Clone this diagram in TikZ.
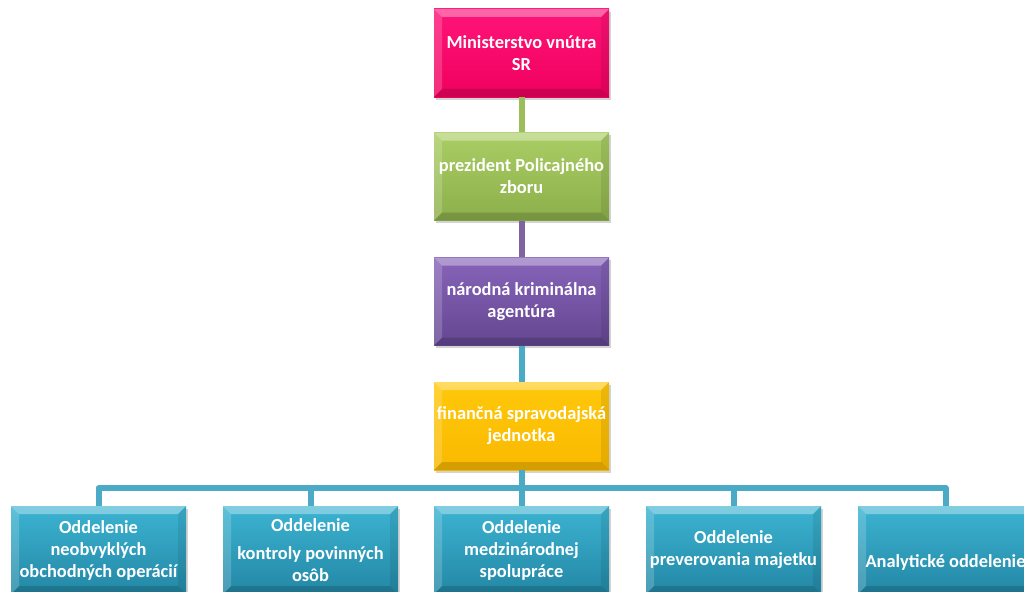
\documentclass[tikz,border=0pt]{standalone}
\usepackage{fontspec}
\setmainfont{Carlito}
\usetikzlibrary{shadows}
\definecolor{cpinkT}{RGB}{255,20,120}
\definecolor{cpinkB}{RGB}{240,0,95}
\definecolor{cgreenT}{RGB}{170,205,100}
\definecolor{cgreenB}{RGB}{140,175,75}
\definecolor{cpurpT}{RGB}{135,100,185}
\definecolor{cpurpB}{RGB}{100,70,145}
\definecolor{cyelT}{RGB}{255,200,10}
\definecolor{cyelB}{RGB}{250,185,0}
\definecolor{ctealT}{RGB}{60,180,210}
\definecolor{ctealB}{RGB}{35,135,165}
\definecolor{lgreen}{RGB}{155,190,90}
\definecolor{lpurp}{RGB}{128,100,162}
\definecolor{lteal}{RGB}{75,170,198}
\tikzset{
  orgbox/.style={minimum width=131.25pt, minimum height=66pt, inner sep=1pt,
    align=center, text=white, font=\bfseries\fontsize{13.8}{16.5}\selectfont,
    drop shadow={opacity=0.35, shadow xshift=1.5pt, shadow yshift=-2pt},
    path picture={
      \fill[white,opacity=0.35] (path picture bounding box.north west) -- (path picture bounding box.north east)
        -- ([xshift=-6pt,yshift=-6pt]path picture bounding box.north east) -- ([xshift=6pt,yshift=-6pt]path picture bounding box.north west) -- cycle;
      \fill[white,opacity=0.18] (path picture bounding box.north west) -- ([xshift=6pt,yshift=-6pt]path picture bounding box.north west)
        -- ([xshift=6pt,yshift=6pt]path picture bounding box.south west) -- (path picture bounding box.south west) -- cycle;
      \fill[black,opacity=0.08] (path picture bounding box.north east) -- ([xshift=-6pt,yshift=-6pt]path picture bounding box.north east)
        -- ([xshift=-6pt,yshift=6pt]path picture bounding box.south east) -- (path picture bounding box.south east) -- cycle;
      \fill[black,opacity=0.15] (path picture bounding box.south west) -- ([xshift=6pt,yshift=6pt]path picture bounding box.south west)
        -- ([xshift=-6pt,yshift=6pt]path picture bounding box.south east) -- (path picture bounding box.south east) -- cycle;
    }},
  pinkbox/.style={orgbox, top color=cpinkT, bottom color=cpinkB},
  greenbox/.style={orgbox, top color=cgreenT, bottom color=cgreenB},
  purpbox/.style={orgbox, top color=cpurpT, bottom color=cpurpB},
  yelbox/.style={orgbox, top color=cyelT, bottom color=cyelB},
  tealbox/.style={orgbox, top color=ctealT, bottom color=ctealB},
  conn/.style={line width=4.5pt, line join=round}
}
\begin{document}
\begin{tikzpicture}[x=0.75pt,y=-0.75pt]
\useasboundingbox (0,0) rectangle (1024,592);
\clip (0,0) rectangle (1024,592);
\node[pinkbox]  (msr) at (521.5,53)  {Ministerstvo vnútra\\SR};
\node[greenbox] (ppz) at (521.5,176.5) {prezident Policajného\\zboru};
\node[purpbox]  (nka) at (521.5,301.5) {národná kriminálna\\agentúra};
\node[yelbox]   (fsj) at (521.5,426) {finančná spravodajská\\jednotka};
\node[tealbox] (o1) at (98.5,550)  {Oddelenie\\neobvyklých\\obchodných operácií};
\node[tealbox] (o2) at (310.5,550) {Oddelenie\\[5pt]kontroly povinných\\osôb};
\node[tealbox] (o3) at (521.5,550) {Oddelenie\\medzinárodnej\\spolupráce};
\node[tealbox] (o4) at (733.5,550) {Oddelenie\\preverovania majetku};
\node[tealbox] (o5) at (945.5,550) {\strut\\Analytické oddelenie};
\draw[conn, lgreen] (msr.south) -- (ppz.north);
\draw[conn, lpurp] (ppz.south) -- (nka.north);
\draw[conn, lteal] (nka.south) -- (fsj.north);
\coordinate (bar) at (521.5,488);
\draw[conn, lteal] (fsj.south) -- (bar);
\draw[conn, lteal] (bar) -| (o1.north);
\draw[conn, lteal] (bar) -| (o2.north);
\draw[conn, lteal] (bar) -- (o3.north);
\draw[conn, lteal] (bar) -| (o4.north);
\draw[conn, lteal] (bar) -| (o5.north);
\end{tikzpicture}
\end{document}
